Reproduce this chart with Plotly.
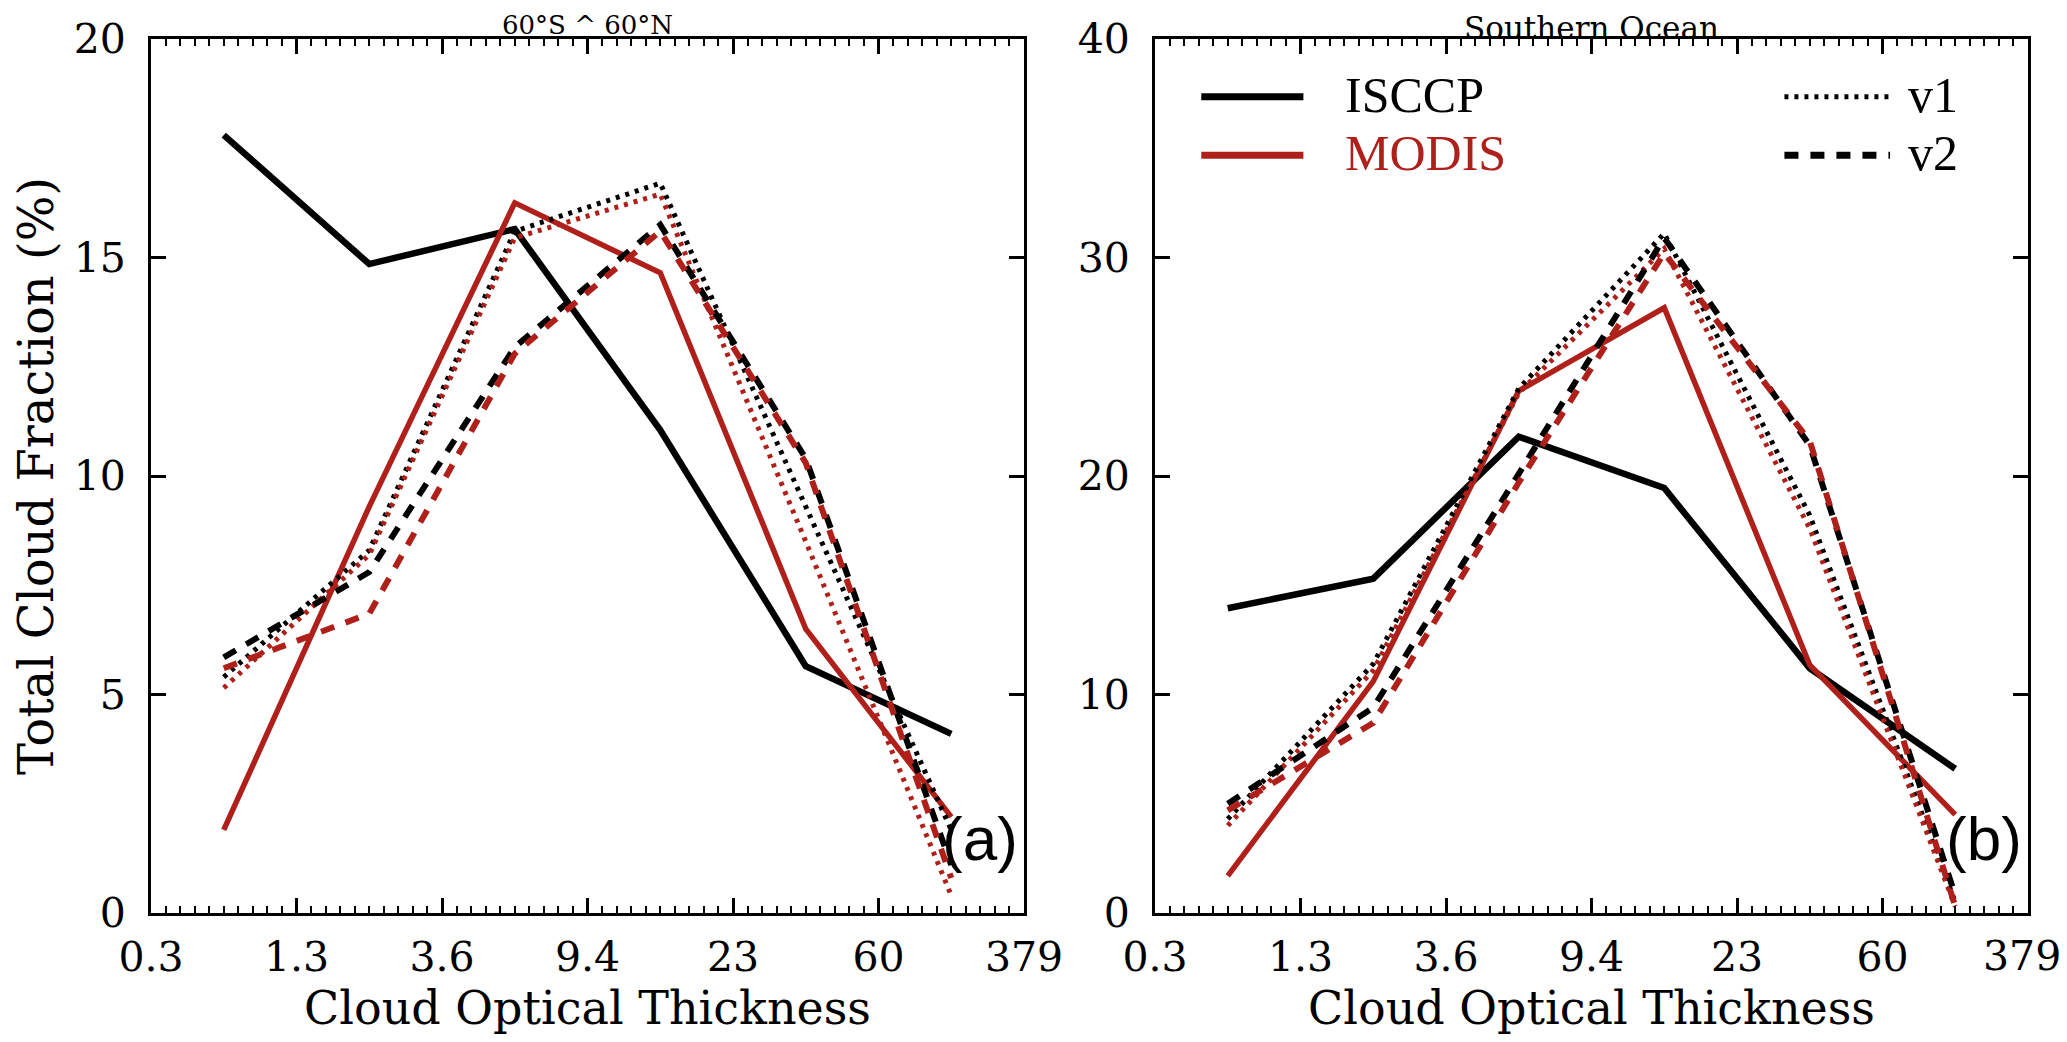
import plotly.graph_objects as go

# bin boundaries of cloud optical thickness (tick labels) and bin centres
tau_labels = ["0.3", "1.3", "3.6", "9.4", "23", "60", "379"]
bin_centres = [0.5, 1.5, 2.5, 3.5, 4.5, 5.5]

# (a) 60S - 60N, total cloud fraction (%)
a_isccp_obs = [17.8, 14.85, 15.65, 11.05, 5.65, 4.1]
a_modis_obs = [1.9, 9.3, 16.25, 14.65, 6.5, 2.2]
a_isccp_v1 = [5.4, 8.3, 15.6, 16.7, 9.3, 1.9]
a_modis_v1 = [5.15, 8.2, 15.45, 16.45, 8.5, 0.4]
a_isccp_v2 = [5.85, 7.8, 12.95, 15.75, 10.4, 1.1]
a_modis_v2 = [5.6, 6.85, 12.8, 15.6, 10.3, 0.8]

# (b) Southern Ocean
b_isccp_obs = [13.95, 15.3, 21.8, 19.45, 11.2, 6.6]
b_modis_obs = [1.7, 10.6, 23.9, 27.7, 11.35, 4.5]
b_isccp_v1 = [4.3, 11.4, 24.0, 31.1, 18.2, 0.5]
b_modis_v1 = [4.0, 11.1, 23.8, 30.4, 17.6, 0.3]
b_isccp_v2 = [5.0, 9.4, 20.1, 30.9, 21.4, 0.8]
b_modis_v2 = [4.7, 8.7, 19.7, 30.2, 21.6, 0.3]

panel_titles = ["60°S ^ 60°N", "Southern Ocean"]
panel_title_sizes = [26, 31]
panel_tags = ["(a)", "(b)"]
y_ranges = [20, 40]
y_dticks = [5, 10]

BLACK = "#000000"
RED = "#b0201a"
DOT = "4px,6px"
DASH = "14px,12px"
NUM_FONT = "DejaVu Serif"

# the page body adds an 8px margin, so the figure is laid out 8px smaller
OFF = 8
W, H = 2067 - OFF, 1042 - OFF


def px(x):
    return (x - OFF) / W


def py(y):
    return 1 - (y - OFF) / H


# line style per series: (colour, width, dash)
styles = [
    (BLACK, 6.5, "solid"),
    (RED, 5.5, "solid"),
    (BLACK, 5, DOT),
    (RED, 5, DOT),
    (BLACK, 6, DASH),
    (RED, 6, DASH),
]
names = ["ISCCP", "MODIS", "ISCCP v1", "MODIS v1", "ISCCP v2", "MODIS v2"]

panels = [
    [a_isccp_obs, a_modis_obs, a_isccp_v1, a_modis_v1, a_isccp_v2, a_modis_v2],
    [b_isccp_obs, b_modis_obs, b_isccp_v1, b_modis_v1, b_isccp_v2, b_modis_v2],
]

fig = go.Figure()

for p, series in enumerate(panels):
    xa = "x" if p == 0 else "x2"
    ya = "y" if p == 0 else "y2"
    for vals, (col, w, dash), nm in zip(series, styles, names):
        fig.add_trace(go.Scatter(
            x=bin_centres, y=vals, mode="lines", name=nm,
            line=dict(color=col, width=w, dash=dash),
            xaxis=xa, yaxis=ya, showlegend=False,
        ))

x_domains = [[px(151), px(1024)], [px(1155), px(2028)]]
y_domain = [py(913), py(39)]
TICK_FONT = dict(family=NUM_FONT, size=41, color="black")

axis_common = dict(
    showline=True, linecolor="black", linewidth=3, mirror="ticks",
    showgrid=False, zeroline=False, ticks="inside", tickcolor="black",
    tickwidth=3, tickfont=TICK_FONT, ticklabeloverflow="allow",
)

layout = dict(
    width=W, height=H,
    margin=dict(l=0, r=0, t=0, b=0),
    plot_bgcolor="white", paper_bgcolor="white",
    showlegend=False,
)

for p in range(2):
    sfx = "" if p == 0 else "2"
    labels = list(tau_labels)
    if p == 1:
        # last label of panel (b) sits against the page edge; drawn below
        labels[-1] = ""
    layout["xaxis" + sfx] = dict(
        axis_common, domain=x_domains[p], range=[0, 6],
        tickvals=list(range(len(tau_labels))), ticktext=labels,
        ticklen=15, ticklabelstandoff=6,
        minor=dict(dtick=0.1, ticks="inside", ticklen=7, tickwidth=2, tickcolor="black"),
        title=dict(text="Cloud Optical Thickness", standoff=4,
                   font=dict(family=NUM_FONT, size=46, color="black")),
        anchor="y" + sfx, automargin=False,
    )
    layout["yaxis" + sfx] = dict(
        axis_common, domain=y_domain, range=[0, y_ranges[p]], dtick=y_dticks[p],
        ticklen=15, ticklabelstandoff=14,
        anchor="x" + sfx, automargin=False,
    )

layout["yaxis"]["title"] = dict(text="Total Cloud Fraction (%)", standoff=22,
                                font=dict(family=NUM_FONT, size=48, color="black"))

fig.update_layout(**layout)

# right-most tick label of panel (b), nudged inside the page
fig.add_annotation(
    text=tau_labels[-1], xref="paper", yref="paper",
    x=px(2022), y=py(956), xanchor="center", yanchor="middle",
    showarrow=False, font=TICK_FONT,
)

# panel titles and tags
for p in range(2):
    sfx = "" if p == 0 else "2"
    fig.add_annotation(
        text=panel_titles[p], xref="x" + sfx + " domain", yref="paper",
        x=0.5, y=1, xanchor="center", yanchor="top", showarrow=False,
        font=dict(family=NUM_FONT, size=panel_title_sizes[p], color="black"),
    )
    fig.add_annotation(
        text=panel_tags[p], xref="x" + sfx + " domain", yref="y" + sfx + " domain",
        x=0.995, y=(913 - 838) / 874, xanchor="right", yanchor="middle", showarrow=False,
        font=dict(family="Liberation Sans Narrow, Liberation Sans", size=62, color="black"),
    )

# legend drawn inside panel (b)
legend_rows = [
    ("ISCCP", BLACK, "solid", 0.934, "left"),
    ("MODIS", RED, "solid", 0.867, "left"),
    ("v1", BLACK, DOT, 0.934, "right"),
    ("v2", BLACK, DASH, 0.867, "right"),
]
for label, col, dash, yy, side in legend_rows:
    if side == "left":
        x0, x1, xt = 0.053, 0.170, 0.215
        tcol = col
    else:
        x0, x1, xt = 0.721, 0.842, 0.86
        tcol = BLACK
    fig.add_shape(
        type="line", xref="x2 domain", yref="y2 domain",
        x0=x0, x1=x1, y0=yy, y1=yy,
        line=dict(color=col, width=7 if dash != DOT else 5, dash=dash),
    )
    fig.add_annotation(
        text=label, xref="x2 domain", yref="y2 domain", x=xt, y=yy + 0.002,
        xanchor="left", yanchor="middle", showarrow=False,
        font=dict(family="Liberation Serif", size=50, color=tcol),
    )

fig.write_html("out.html")
